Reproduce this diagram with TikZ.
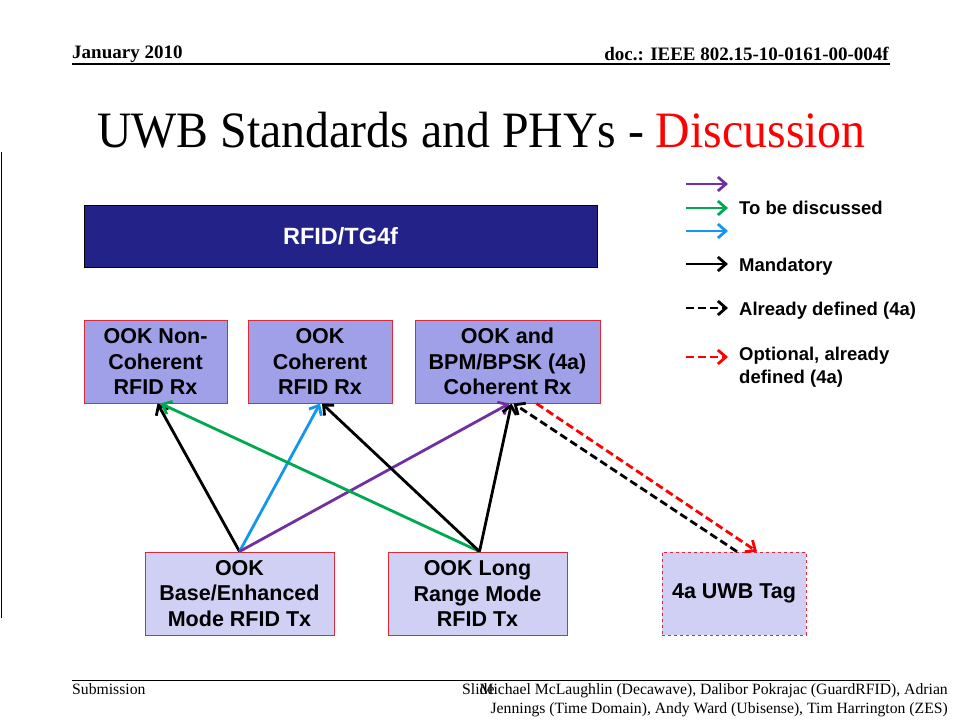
\documentclass[tikz,border=0pt]{standalone}
\usepackage{fontspec}
\setmainfont{Liberation Serif}
\newfontfamily\arialf{Liberation Sans}
\usetikzlibrary{arrows.meta,calc}
\definecolor{navy}{RGB}{34,34,136}
\definecolor{rxfill}{RGB}{160,160,232}
\definecolor{txfill}{RGB}{208,208,244}
\definecolor{boxred}{RGB}{222,40,60}
\definecolor{apurple}{RGB}{112,48,160}
\definecolor{agreen}{RGB}{0,168,80}
\definecolor{ablue}{RGB}{20,150,240}
\tikzset{
  topbox/.style={draw=black,line width=1pt,fill=navy,text=white,minimum width=513pt,minimum height=62pt,inner sep=0pt,font=\arialf\bfseries\fontsize{23.5}{26}\selectfont},
  rxbox/.style={draw=boxred,line width=1pt,fill=rxfill,minimum height=83pt,inner sep=0pt,align=center,font=\arialf\bfseries\fontsize{21.5}{25.5}\selectfont},
  txbox/.style={rxbox,fill=txfill},
  arr/.style={line width=2.8pt,-{Straight Barb[length=8pt,width=14pt]}},
  dsh/.style={arr,dash pattern=on 8pt off 4pt},
  lgtext/.style={anchor=base west,inner sep=0pt,font=\arialf\bfseries\fontsize{18.5}{23}\selectfont,align=left},
  foot/.style={inner sep=0pt,font=\fontsize{15.7}{19}\selectfont},
  head/.style={inner sep=0pt,font=\bfseries\fontsize{19}{22}\selectfont},
}
\begin{document}
\begin{tikzpicture}[x=1pt,y=-1pt]
\useasboundingbox (0,0) rectangle (960,720);
% header
\node[head,anchor=base west] (date) at (72,58) {January 2010};
\node[head,anchor=base east] (doc) at (889,60) {doc.: IEEE 802.15-10-0161-00-004f};
\draw[line width=1.2pt] (72,64) -- (890,64);
% title
\node[anchor=base west,inner sep=0pt,font=\fontsize{51}{60}\selectfont] (title) at (97,147) {\scalebox{0.937}[1]{UWB Standards and PHYs - \textcolor{red}{Discussion}}};
% left rule
\draw[line width=1.5pt] (1.5,152) -- (1.5,618);
% boxes
\node[topbox] (top) at (340.5,236) {RFID/TG4f};
\node[rxbox,minimum width=143pt] (nc) at (155.5,361.5) {OOK Non-\\Coherent\\RFID Rx};
\node[rxbox,minimum width=144pt] (coh) at (320,361.5) {OOK\\Coherent\\RFID Rx};
\node[rxbox,minimum width=185pt] (bpm) at (507.5,361.5) {OOK and\\BPM/BPSK (4a)\\Coherent Rx};
\node[txbox,minimum width=189pt] (base) at (239.5,593.5) {OOK\\Base/Enhanced\\Mode RFID Tx};
\node[txbox,minimum width=179pt] (long) at (477.5,593.5) {OOK Long\\Range Mode\\RFID Tx};
\node[txbox,minimum width=144pt,dashed,line width=0.8pt] (tag) at (734,593.5) {4a UWB Tag};
% connectors
\draw[arr,black] (base.north) -- ([xshift=2pt]nc.south);
\draw[arr,ablue] (base.north) -- (coh.south);
\draw[arr,apurple] (base.north) -- ([xshift=2pt]bpm.south);
\draw[arr,agreen] ([xshift=2pt]long.north) -- ([xshift=5pt]nc.south);
\draw[arr,black] ([xshift=2pt]long.north) -- ([xshift=2pt]coh.south);
\draw[arr,black] ([xshift=2pt]long.north) -- ([xshift=4pt]bpm.south);
\draw[dsh,black] ([xshift=3pt]tag.north) -- ([xshift=6pt]bpm.south);
\draw[dsh,red] ([xshift=29pt]bpm.south) -- ([xshift=23pt]tag.north);
% legend
\coordinate (l1s) at (686,184); \coordinate (l1e) at (728,184);
\coordinate (l2s) at (686,208); \coordinate (l2e) at (728,208);
\coordinate (l3s) at (686,231); \coordinate (l3e) at (728,231);
\coordinate (l4s) at (686,264); \coordinate (l4e) at (728,264);
\coordinate (l5s) at (686,308); \coordinate (l5e) at (728,308);
\coordinate (l6s) at (686,357); \coordinate (l6e) at (728,357);
\draw[arr,apurple] (l1s) -- (l1e);
\draw[arr,agreen] (l2s) -- (l2e);
\draw[arr,ablue] (l3s) -- (l3e);
\draw[arr,black] (l4s) -- (l4e);
\draw[dsh,black] (l5s) -- (l5e);
\draw[dsh,red] (l6s) -- (l6e);
\node[lgtext] (t2) at (739,214) {To be discussed};
\node[lgtext] (t4) at (739,271) {Mandatory};
\node[lgtext] (t5) at (739,315) {Already defined (4a)};
\node[lgtext] (t6) at (739,383) {Optional, already\\defined (4a)};
% footer
\draw[line width=1pt] (72,680) -- (890,680);
\node[foot,anchor=base west] (sub) at (72,694) {Submission};
\node[foot,anchor=base west] (slide) at (462,694) {Slide};
\node[foot,anchor=base east,align=right] (auth) at (948,713) {Michael McLaughlin (Decawave), Dalibor Pokrajac (GuardRFID), Adrian\\Jennings (Time Domain), Andy Ward (Ubisense), Tim Harrington (ZES)};
\end{tikzpicture}
\end{document}
